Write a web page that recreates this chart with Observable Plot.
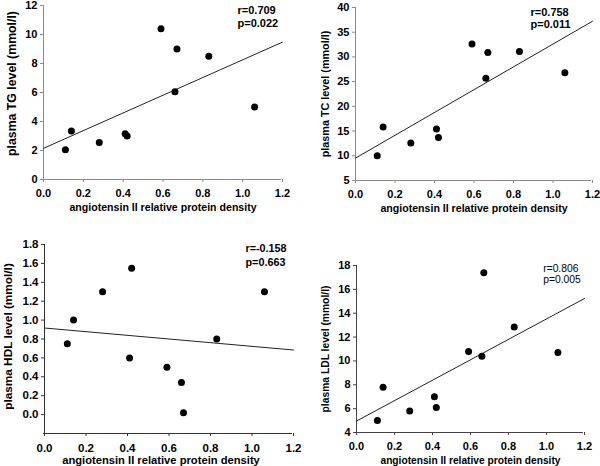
<!DOCTYPE html>
<html>
<head>
<meta charset="utf-8">
<script src="https://cdn.jsdelivr.net/npm/d3@7"></script>
<script src="https://cdn.jsdelivr.net/npm/@observablehq/plot@0.6"></script>
<style>
  html, body { margin: 0; padding: 0; background: #fff; }
  #chart { position: relative; width: 600px; height: 466px; background: #fff; overflow: hidden; }
  #chart svg { position: absolute; overflow: visible; }
</style>
</head>
<body>
<div id="chart"></div>
<script>
// ---- data ----
const density = [0.11, 0.14, 0.28, 0.41, 0.42, 0.59, 0.66, 0.67, 0.83, 1.06];
const tg  = [2.05, 3.35, 2.55, 3.15, 3.0, 10.4, 6.05, 9.0, 8.5, 5.0];
const tc  = [10.0, 15.8, 12.6, 15.4, 13.7, 32.6, 25.7, 30.9, 31.1, 26.8];
const hdl = [0.75, 1.0, 1.3, 0.6, 1.55, 0.5, 0.34, 0.02, 0.8, 1.3];
const ldl = [5.0, 7.8, 5.8, 7.0, 6.1, 10.8, 10.4, 17.4, 12.85, 10.7];

const xTicks = [0, 0.2, 0.4, 0.6, 0.8, 1.0, 1.2];
const tgTicks = [0, 2, 4, 6, 8, 10, 12];
const tcTicks = [5, 10, 15, 20, 25, 30, 35, 40];
const hdlTicks = [0, 0.2, 0.4, 0.6, 0.8, 1.0, 1.2, 1.4, 1.6, 1.8];
const ldlTicks = [4, 6, 8, 10, 12, 14, 16, 18];

const xTitle = "angiotensin II relative protein density";
const yTitles = ["plasma TG level (mmol/l)", "plasma TC level (mmol/l)", "plasma HDL level (mmol/l)", "plasma LDL level (mmol/l)"];
const rLabels = ["r=0.709", "r=0.758", "r=-0.158", "r=0.806"];
const pLabels = ["p=0.022", "p=0.011", "p=0.663", "p=0.005"];

// ---- layout / style per panel ----
const panels = [
  {ys: tg,  yTicks: tgTicks,  yDomain: [0, 12],   yFmt: d3.format("d"),
   left: 0, top: 0, mL: 43, mR: 18, mT: 5, mB: 54, axis: "#8a8a8a",
   xtDy: 28.3, xtDx: 0, xtSize: 10.6, ytDx: -31, ytDy: -9, ytSize: 12.3,
   sDx: 194, sDy1: 5, sDy2: 17.7, sSize: 11, sWeight: "bold", tickSize: 11},
  {ys: tc,  yTicks: tcTicks,  yDomain: [5, 40],   yFmt: d3.format("d"),
   left: 300, top: 0, mL: 55, mR: 8, mT: 7, mB: 53, axis: "#8a8a8a",
   xtDy: 28.3, xtDx: 0, xtSize: 10.6, ytDx: -30, ytDy: 0, ytSize: 10.8,
   sDx: 175, sDy1: 5, sDy2: 17.3, sSize: 11, sWeight: "bold", tickSize: 11},
  {ys: hdl, yTicks: hdlTicks, yDomain: [-0.2, 1.8], yFmt: d3.format(".1f"),
   left: 0, top: 233, mL: 44, mR: 7, mT: 11, mB: 33, axis: "#333",
   xtDy: 26.7, xtDx: -8, xtSize: 11.2, ytDx: -36.7, ytDy: -2.5, ytSize: 11.8,
   sDx: 201, sDy1: 4, sDy2: 18.3, sSize: 10.8, sWeight: "bold", tickSize: 11.5},
  {ys: ldl, yTicks: ldlTicks, yDomain: [4, 18],   yFmt: d3.format("d"),
   left: 300, top: 233, mL: 56, mR: 16, mT: 32, mB: 34, axis: "#444",
   xtDy: 28, xtDx: 0, xtSize: 10.2, ytDx: -31, ytDy: 0, ytSize: 10.3,
   sDx: 186.7, sDy1: 3, sDy2: 14.7, sSize: 10.3, sWeight: "normal", tickSize: 11}
];

function fit(xs, ys) {
  const mx = d3.mean(xs), my = d3.mean(ys);
  let sxy = 0, sxx = 0;
  xs.forEach((x, i) => { sxy += (x - mx) * (ys[i] - my); sxx += (x - mx) ** 2; });
  const m = sxy / sxx;
  return {m, b: my - m * mx};
}

const xDomain = [xTicks[0], xTicks[xTicks.length - 1]];
const chart = document.getElementById("chart");

panels.forEach((p, k) => {
  const data = density.map((x, i) => ({x, y: p.ys[i]}));
  const {m, b} = fit(density, p.ys);
  const fitLine = xDomain.map(x => ({x, y: b + m * x}));
  const svg = Plot.plot({
    width: 300, height: 233,
    marginLeft: p.mL, marginRight: p.mR, marginTop: p.mT, marginBottom: p.mB,
    style: {fontFamily: "'Liberation Sans', Arial, sans-serif", fontSize: p.tickSize + "px", fontWeight: "bold", color: "#000", background: "transparent", overflow: "visible"},
    x: {domain: xDomain, label: null},
    y: {domain: p.yDomain, label: null},
    marks: [
      Plot.ruleX([xDomain[0]], {stroke: p.axis, strokeWidth: 1}),
      Plot.ruleY([p.yDomain[0]], {stroke: p.axis, strokeWidth: 1, dx: -1}),
      Plot.axisX({ticks: xTicks, tickFormat: d3.format(".1f"), tickSize: 3, tickPadding: 7, stroke: p.axis, fill: "#000", label: null, fontSize: p.tickSize, fontWeight: "bold"}),
      Plot.axisY({ticks: p.yTicks, tickFormat: p.yFmt, tickSize: 3, tickPadding: 3, stroke: p.axis, fill: "#000", label: null, fontSize: p.tickSize, fontWeight: "bold"}),
      Plot.line(fitLine, {x: "x", y: "y", stroke: "#222", strokeWidth: 1}),
      Plot.dot(data, {x: "x", y: "y", r: 3.5, fill: "#000", stroke: "none"}),
      Plot.text([xTitle], {frameAnchor: "bottom", textAnchor: "middle", dy: p.xtDy, dx: p.xtDx, lineAnchor: "middle", fontSize: p.xtSize, fontWeight: "bold", fill: "#000"}),
      Plot.text([yTitles[k]], {frameAnchor: "left", textAnchor: "middle", rotate: -90, dx: p.ytDx, dy: p.ytDy, lineAnchor: "middle", fontSize: p.ytSize, fontWeight: "bold", fill: "#000"}),
      Plot.text([rLabels[k]], {frameAnchor: "top-left", textAnchor: "start", lineAnchor: "middle", dx: p.sDx, dy: p.sDy1, fontSize: p.sSize, fontWeight: p.sWeight, fill: "#000"}),
      Plot.text([pLabels[k]], {frameAnchor: "top-left", textAnchor: "start", lineAnchor: "middle", dx: p.sDx, dy: p.sDy2, fontSize: p.sSize, fontWeight: p.sWeight, fill: "#000"})
    ]
  });
  svg.style.left = p.left + "px";
  svg.style.top = p.top + "px";
  chart.appendChild(svg);
});
</script>
</body>
</html>
